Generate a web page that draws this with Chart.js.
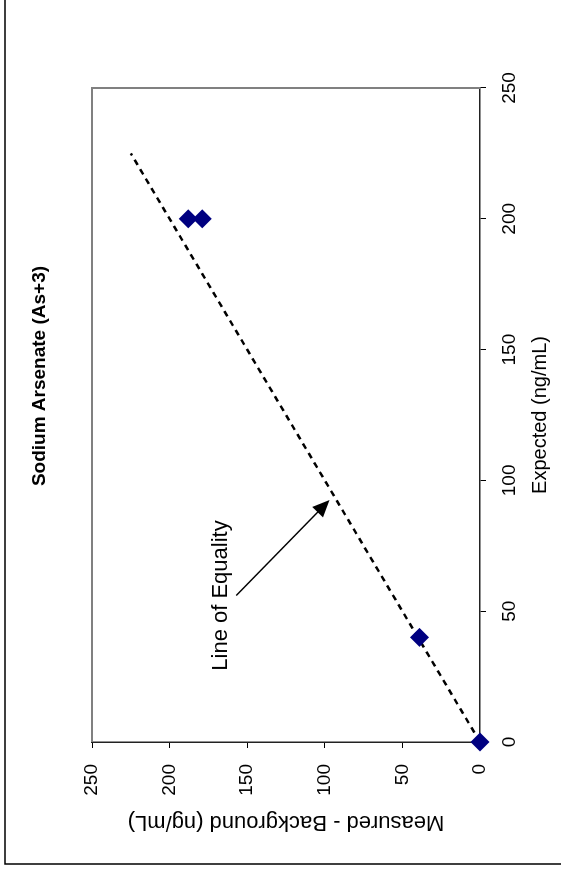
<!DOCTYPE html>
<html>
<head>
<meta charset="utf-8">
<script src="https://cdn.jsdelivr.net/npm/chart.js@4/dist/chart.umd.min.js"></script>
<style>
    body { margin: 0; background: #fff; }
    #wrap { position: relative; width: 561px; height: 873px; overflow: hidden; }
    /* chart is laid out landscape, then turned a quarter to the left */
    #chart { position: absolute; left: 0; top: 0; transform-origin: 0 0; transform: translateY(873px) rotate(-90deg); }
</style>
</head>
<body>
<div id="wrap"><canvas id="chart" width="873" height="561"></canvas></div>
<script>
// data
const expected = [0, 40, 200, 200];
const measured = [0, 39, 188, 179];
const equalityX = [0, 225];
const equalityY = [0, 225];
const tickValues = [0, 50, 100, 150, 200, 250];

const FONT = "'Liberation Sans', Arial, sans-serif";

// frame, plot box, title and the arrow label
const extras = {
    id: 'extras',
    beforeDatasetsDraw(chart) {
        const { ctx, chartArea: a } = chart;
        ctx.save();
        ctx.strokeStyle = '#808080';
        ctx.lineWidth = 2;
        ctx.beginPath();
        ctx.moveTo(a.left, a.top);
        ctx.lineTo(a.right, a.top);
        ctx.lineTo(a.right, a.bottom);
        ctx.stroke();
        ctx.restore();
    },
    afterDraw(chart) {
        const { ctx } = chart;
        const x = chart.scales.x, y = chart.scales.y;
        ctx.save();
        // outer frame
        ctx.strokeStyle = '#000';
        ctx.lineWidth = 1.5;
        ctx.beginPath();
        ctx.moveTo(9, 561);
        ctx.lineTo(9, 5);
        ctx.lineTo(873, 5);
        ctx.stroke();

        // title
        ctx.fillStyle = '#000';
        ctx.font = 'bold 19px ' + FONT;
        ctx.textAlign = 'center';
        ctx.textBaseline = 'middle';
        ctx.fillText('Sodium Arsenate (As+3)', 497, 40);

        // annotation
        ctx.font = '22px ' + FONT;
        ctx.fillText('Line of Equality', x.getPixelForValue(56), y.getPixelForValue(167));
        const x0 = x.getPixelForValue(56), y0 = y.getPixelForValue(157);
        const x1 = x.getPixelForValue(92.5), y1 = y.getPixelForValue(97);
        const ang = Math.atan2(y1 - y0, x1 - x0);
        ctx.lineWidth = 1.5;
        ctx.beginPath();
        ctx.moveTo(x0, y0);
        ctx.lineTo(x1 - 14 * Math.cos(ang), y1 - 14 * Math.sin(ang));
        ctx.stroke();
        ctx.beginPath();
        ctx.moveTo(x1, y1);
        ctx.lineTo(x1 - 17 * Math.cos(ang) + 7.5 * Math.sin(ang), y1 - 17 * Math.sin(ang) - 7.5 * Math.cos(ang));
        ctx.lineTo(x1 - 17 * Math.cos(ang) - 7.5 * Math.sin(ang), y1 - 17 * Math.sin(ang) + 7.5 * Math.cos(ang));
        ctx.closePath();
        ctx.fill();
        ctx.restore();
    }
};

const ctx = document.getElementById('chart').getContext('2d');
new Chart(ctx, {
    type: 'scatter',
    data: {
        datasets: [
            {
                label: 'Line of Equality',
                data: equalityX.map((v, i) => ({ x: v, y: equalityY[i] })),
                showLine: true,
                borderColor: '#000',
                borderWidth: 2.5,
                borderDash: [6, 5],
                pointRadius: 0,
                order: 2
            },
            {
                label: 'Measured',
                data: expected.map((v, i) => ({ x: v, y: measured[i] })),
                pointStyle: 'rectRot',
                pointRadius: 9.5,
                backgroundColor: '#000080',
                borderColor: '#000080',
                borderWidth: 0,
                clip: false,
                order: 1
            }
        ]
    },
    options: {
        responsive: false,
        animation: false,
        layout: { padding: { left: 0, top: 92, right: 88, bottom: 0 } },
        plugins: { legend: { display: false }, tooltip: { enabled: false } },
        scales: {
            x: {
                type: 'linear',
                min: 0,
                max: 250,
                afterBuildTicks: (s) => { s.ticks = tickValues.map(v => ({ value: v })); },
                afterFit: (s) => { s.height = 81; },
                grid: { drawOnChartArea: false, tickLength: 6, tickColor: '#000', tickWidth: 1 },
                border: { color: '#222', width: 1.5 },
                ticks: { color: '#000', padding: 12, maxRotation: 0, font: { family: FONT, size: 19 } },
                title: { display: true, text: 'Expected (ng/mL)', color: '#000', padding: { bottom: 9 }, font: { family: FONT, size: 20 } }
            },
            y: {
                type: 'linear',
                min: 0,
                max: 250,
                afterBuildTicks: (s) => { s.ticks = tickValues.map(v => ({ value: v })); },
                afterFit: (s) => { s.width = 131; },
                grid: { drawOnChartArea: false, tickLength: 6, tickColor: '#000', tickWidth: 1 },
                border: { color: '#222', width: 1.5 },
                ticks: { color: '#000', padding: 16, font: { family: FONT, size: 19 } },
                title: { display: true, text: 'Measured - Background (ng/mL)', color: '#000', padding: { top: 38 }, font: { family: FONT, size: 22 } }
            }
        }
    },
    plugins: [extras]
});
</script>
</body>
</html>
